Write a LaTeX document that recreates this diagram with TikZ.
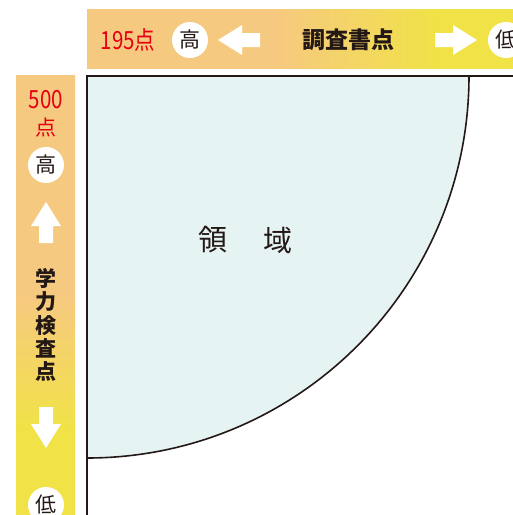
\documentclass[tikz,border=0pt]{standalone}
\usepackage{fontspec}
\newfontfamily\jp{Noto Sans CJK JP}
\definecolor{cOr}{RGB}{246,201,128}
\definecolor{cYe}{RGB}{241,226,72}
\definecolor{cReg}{RGB}{230,243,243}
\definecolor{cInk}{RGB}{35,24,21}
\definecolor{cRed}{RGB}{230,0,18}
\pgfdeclarehorizontalshading{topbar}{100bp}{color(0bp)=(cOr); color(47bp)=(cOr); color(66bp)=(cYe); color(100bp)=(cYe)}
\pgfdeclareverticalshading{leftbar}{100bp}{color(0bp)=(cYe); color(35bp)=(cYe); color(50bp)=(cOr); color(100bp)=(cOr)}
\tikzset{
  circ/.style={circle, fill=white, minimum size=36pt, inner sep=0pt, font=\jp\fontsize{21}{21}\selectfont, text=cInk},
  score/.style={text=cRed, inner sep=0pt, font=\jp\fontsize{25}{25}\selectfont},
  blockarrow/.style={fill=white, draw=none},
  axislabel/.style={text=cInk, inner sep=0pt, font=\jp\bfseries\fontsize{23}{23}\selectfont},
  region/.style={text=cInk, inner sep=0pt, font=\jp\fontsize{29}{29}\selectfont},
  frame/.style={draw=cInk, line width=2pt}
}
\begin{document}
\begin{tikzpicture}[x=1pt,y=1pt]
\useasboundingbox (0,0) rectangle (513,-515);
% bars
\shade[shading=topbar] (87,-9) rectangle (513,-68);
\shade[shading=leftbar] (16,-75) rectangle (75,-515);
% region
\fill[cReg] (87,-76) -- (469,-76) arc[start angle=0, end angle=-90, radius=382] -- cycle;
\draw[frame] (513,-76) -- (87,-76) -- (87,-515);
\draw[frame, line width=1.6pt] (469,-76) arc[start angle=0, end angle=-90, radius=382];
% top bar contents
\node[score, anchor=center] (s195) at (128,-40) {\scalebox{0.82}[1]{195点}};
\node[circ] (hiT) at (190,-40) {高};
\fill[blockarrow] (218,-40) -- (242,-25) -- (242,-33) -- (260,-33) -- (260,-47) -- (242,-47) -- (242,-55) -- cycle;
\node[axislabel] (lblT) at (348,-40) {調査書点};
\fill[blockarrow] (477,-40) -- (453,-25) -- (453,-33) -- (435,-33) -- (435,-47) -- (453,-47) -- (453,-55) -- cycle;
\node[circ] (loT) at (506,-40) {低};
% left bar contents
\node[score] (s500) at (46,-100) {\scalebox{0.82}[1]{500}};
\node[score, font=\jp\fontsize{21}{21}\selectfont] (s500b) at (46,-128) {点};
\node[circ] (hiL) at (46,-165) {高};
\fill[blockarrow] (46,-202) -- (31,-226) -- (39,-226) -- (39,-243) -- (53,-243) -- (53,-226) -- (61,-226) -- cycle;
\node[axislabel, align=center, font=\jp\bfseries\fontsize{21}{23.2}\selectfont] (lblL) at (46,-325) {学\\力\\検\\査\\点};
\fill[blockarrow] (46,-448) -- (31,-424) -- (39,-424) -- (39,-407) -- (53,-407) -- (53,-424) -- (61,-424) -- cycle;
\node[circ] (loL) at (46,-505) {低};
% region label
\node[region] (r1) at (213,-240) {領};
\node[region] (r2) at (278,-240) {域};
\end{tikzpicture}
\end{document}
